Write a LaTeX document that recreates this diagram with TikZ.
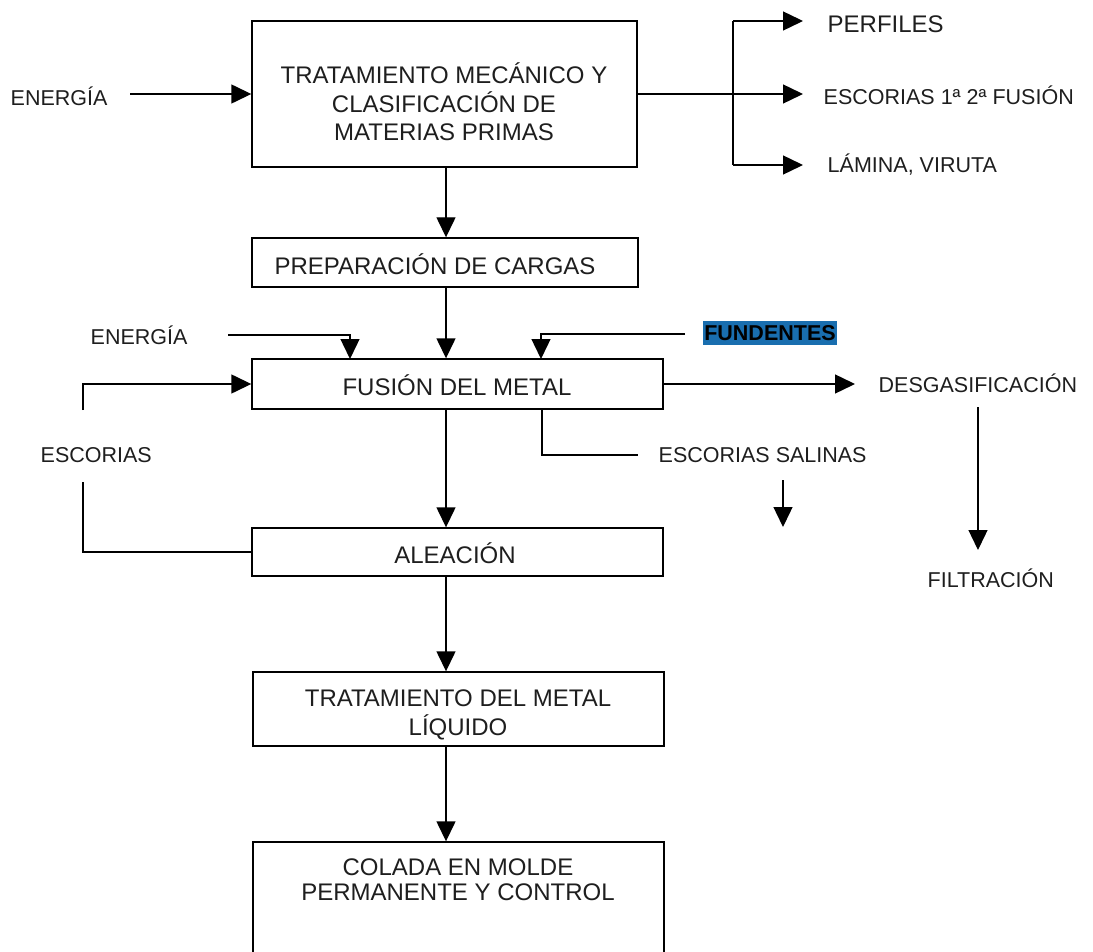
\documentclass[tikz,border=0pt]{standalone}
\usepackage{fontspec}
\setmainfont{Liberation Sans}
\usetikzlibrary{arrows.meta}
\definecolor{ink}{RGB}{30,30,30}
\definecolor{hl}{RGB}{25,110,175}
\begin{document}
\begin{tikzpicture}[x=1pt,y=-1pt, line width=1.4pt,
  box/.style={draw, rectangle, inner sep=0pt},
  boxtext/.style={inner sep=0pt, align=center, text=ink, font=\fontsize{24}{28.5}\selectfont},
  lbl/.style={inner sep=0pt, anchor=west, text=ink, font=\fontsize{21.5}{26}\selectfont},
  arr/.style={-{Triangle[length=20pt,width=19pt]}}]
\useasboundingbox (0,0) rectangle (1093,952);
\clip (0,0) rectangle (1093,952);

% boxes
\node[box, minimum width=385pt, minimum height=146pt] (b1) at (444.5,94) {};
\node[boxtext] (b1t) at (444,102) {TRATAMIENTO MECÁNICO Y\\CLASIFICACIÓN DE\\MATERIAS PRIMAS};
\node[box, minimum width=386pt, minimum height=49pt] (b2) at (445,262.5) {};
\node[boxtext] (b2t) at (435,264) {PREPARACIÓN DE CARGAS};
\node[box, minimum width=411pt, minimum height=50pt] (fus) at (457.5,384) {};
\node[boxtext] (fust) at (457,385) {FUSIÓN DEL METAL};
\node[box, minimum width=411pt, minimum height=48pt] (ale) at (457.5,552) {};
\node[boxtext] (alet) at (455,553) {ALEACIÓN};
\node[box, minimum width=411pt, minimum height=74pt] (liq) at (458.5,709) {};
\node[boxtext] (liqt) at (458,715) {TRATAMIENTO DEL METAL\\LÍQUIDO};
\node[box, minimum width=411pt, minimum height=120pt] (col) at (458.5,902) {};
\node[boxtext, font=\fontsize{24}{25}\selectfont] (colt) at (458,880) {COLADA EN MOLDE\\PERMANENTE Y CONTROL};

% labels
\node[lbl] (en1) at (10,96) {ENERGÍA};
\node[lbl, font=\fontsize{24}{28}\selectfont] (perf) at (827,24) {PERFILES};
\node[lbl] (esc12) at (823,95) {ESCORIAS 1ª 2ª FUSIÓN};
\node[lbl] (lam) at (827,165) {LÁMINA, VIRUTA};
\node[lbl] (en2) at (90,335) {ENERGÍA};
\node[inner xsep=1pt, inner ysep=0pt, minimum height=24pt, fill=hl, text=black,
      font=\fontsize{21.5}{26}\selectfont\bfseries] (fund) at (770,333) {FUNDENTES};
\node[lbl] (esc) at (40,455) {ESCORIAS};
\node[lbl] (sal) at (658,455) {ESCORIAS SALINAS};
\node[lbl] (desg) at (878,383) {DESGASIFICACIÓN};
\node[lbl] (filt) at (927,578) {FILTRACIÓN};

% coordinates
\coordinate (e1s) at (130,94);
\coordinate (br) at (733,94);
\coordinate (bt) at (733,21);
\coordinate (bb) at (733,165);
\coordinate (pt) at (803,21);
\coordinate (pm) at (803,94);
\coordinate (pb) at (803,165);
\coordinate (e2s) at (228,335);
\coordinate (f1) at (350,359);
\coordinate (fs) at (685,334);
\coordinate (f3) at (541,359);
\coordinate (mx) at (446,0);
\coordinate (lt) at (83,410);
\coordinate (lb) at (83,482);
\coordinate (dt) at (855,384);
\coordinate (s0) at (542,409);
\coordinate (s1) at (638,455);
\coordinate (sa) at (783,480);
\coordinate (sb) at (783,527);
\coordinate (da) at (978,407);
\coordinate (db) at (978,550);

% connectors
\draw[arr] (e1s) -- (b1.west);
\draw (b1.east) -- (br);
\draw (bt) -- (bb);
\draw[arr] (bt) -- (pt);
\draw[arr] (br) -- (pm);
\draw[arr] (bb) -- (pb);
\draw[arr] (b1.south -| mx) -- (b2.north -| mx);
\draw[arr] (b2.south -| mx) -- (fus.north -| mx);
\draw[arr] (e2s) -| (f1);
\draw[arr] (fs) -| (f3);
\draw[arr] (lt) |- (fus.west);
\draw (lb) |- (ale.west);
\draw[arr] (fus.south -| mx) -- (ale.north -| mx);
\draw[arr] (fus.east) -- (dt);
\draw (s0) |- (s1);
\draw[arr] (sa) -- (sb);
\draw[arr] (da) -- (db);
\draw[arr] (ale.south -| mx) -- (liq.north -| mx);
\draw[arr] (liq.south -| mx) -- (col.north -| mx);
\end{tikzpicture}
\end{document}
